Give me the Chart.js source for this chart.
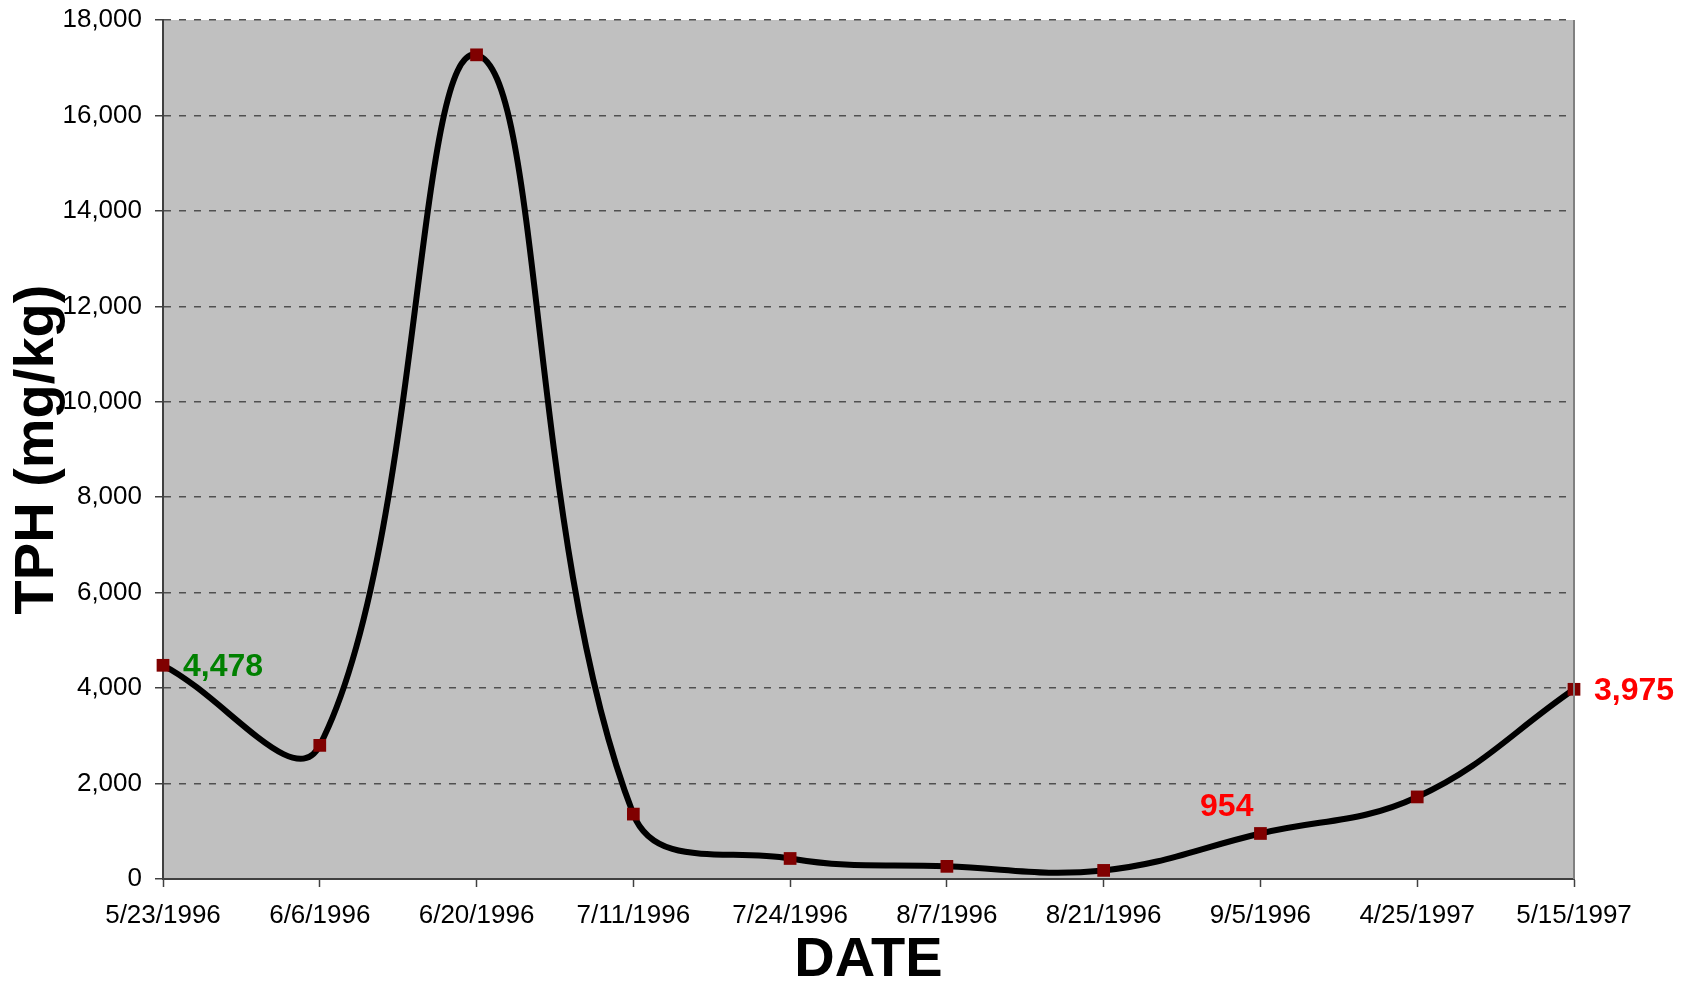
<!DOCTYPE html>
<html>
<head>
<meta charset="utf-8">
<title>TPH (mg/kg)</title>
<script src="https://cdn.jsdelivr.net/npm/chart.js@4/dist/chart.umd.min.js"></script>
<style>
    html, body { margin: 0; padding: 0; background: #ffffff; }
    #wrap { width: 1683px; height: 983px; position: relative; }
</style>
</head>
<body>
<div id="wrap"><canvas id="tphChart"></canvas></div>
<script>
// --- data ---
const dates = ['5/23/1996', '6/6/1996', '6/20/1996', '7/11/1996', '7/24/1996',
               '8/7/1996', '8/21/1996', '9/5/1996', '4/25/1997', '5/15/1997'];
const tphValues = [4478, 2800, 17270, 1360, 430, 265, 180, 954, 1720, 3975];
const yTicks = [0, 2000, 4000, 6000, 8000, 10000, 12000, 14000, 16000, 18000];

// which points carry a value label, and its colour
const labelledPoints = [0, 7, 9];
const labelColors = ['#008000', '#ff0000', '#ff0000'];

const FONT = "'Liberation Sans', Arial, sans-serif";
const fmt = v => v.toLocaleString('en-US');

// grey plot area + right border line
const plotBackground = {
    id: 'plotBackground',
    beforeDraw(chart) {
        const {ctx, chartArea: a} = chart;
        ctx.save();
        ctx.fillStyle = '#c0c0c0';
        ctx.fillRect(a.left, a.top, a.right - a.left, a.bottom - a.top);
        ctx.restore();
    },
    afterDraw(chart) {
        const {ctx, chartArea: a} = chart;
        ctx.save();
        ctx.strokeStyle = '#808080';
        ctx.lineWidth = 2;
        ctx.beginPath();
        ctx.moveTo(a.right, a.top);
        ctx.lineTo(a.right, a.bottom);
        ctx.stroke();
        ctx.restore();
    }
};

// value labels next to a few points
const valueLabels = {
    id: 'valueLabels',
    afterDatasetsDraw(chart) {
        const {ctx} = chart;
        const pts = chart.getDatasetMeta(0).data;
        ctx.save();
        ctx.font = 'bold 32px ' + FONT;
        ctx.textBaseline = 'middle';
        labelledPoints.forEach((idx, i) => {
            const p = pts[idx];
            const text = fmt(tphValues[idx]);
            ctx.fillStyle = labelColors[i];
            if (idx === 7) {
                // this one sits above-left of its point
                ctx.textAlign = 'right';
                ctx.fillText(text, p.x - 7, p.y - 26);
            } else {
                ctx.textAlign = 'left';
                ctx.fillText(text, p.x + 20, p.y + 2);
            }
        });
        ctx.restore();
    }
};

const ctx = document.getElementById('tphChart').getContext('2d');

new Chart(ctx, {
    type: 'line',
    data: {
        labels: dates,
        datasets: [{
            label: 'TPH',
            data: tphValues,
            borderColor: '#000000',
            borderWidth: 6,
            tension: 0.4,
            fill: false,
            pointStyle: 'rect',
            pointRadius: 9,
            pointBorderWidth: 0,
            pointBackgroundColor: '#800000',
            pointBorderColor: '#800000'
        }]
    },
    options: {
        responsive: true,
        maintainAspectRatio: false,
        animation: false,
        layout: {
            padding: { left: 0, top: 20, right: 109, bottom: 0 }
        },
        plugins: {
            legend: { display: false },
            tooltip: { enabled: false }
        },
        scales: {
            x: {
                offset: false,
                afterFit: s => { s.height = 104; },
                border: { display: true, color: '#404040', width: 2 },
                grid: {
                    drawOnChartArea: false,
                    drawTicks: true,
                    tickLength: 8,
                    tickColor: '#404040',
                    tickWidth: 1.5
                },
                ticks: {
                    color: '#000000',
                    font: { family: FONT, size: 26 },
                    padding: 13,
                    maxRotation: 0,
                    autoSkip: false
                },
                title: {
                    display: true,
                    text: 'DATE',
                    color: '#000000',
                    font: { family: FONT, size: 56, weight: 'bold', lineHeight: 0.8 },
                    padding: { top: 0, bottom: 0 }
                }
            },
            y: {
                min: 0,
                max: 18000,
                afterFit: s => { s.width = 163; s.paddingTop = 0; s.paddingBottom = 0; },
                afterBuildTicks: s => { s.ticks = yTicks.map(v => ({ value: v })); },
                border: { display: true, color: '#404040', width: 2, dash: [7, 8] },
                grid: {
                    color: '#505050',
                    lineWidth: 1.5,
                    drawTicks: true,
                    tickLength: 8,
                    tickColor: '#404040',
                    tickWidth: 1.5,
                    tickBorderDash: []
                },
                ticks: {
                    color: '#000000',
                    font: { family: FONT, size: 26 },
                    padding: 13,
                    callback: v => fmt(v)
                },
                title: {
                    display: true,
                    text: 'TPH (mg/kg)',
                    color: '#000000',
                    font: { family: FONT, size: 56, weight: 'bold' },
                    padding: { top: 4, bottom: 0 }
                }
            }
        }
    },
    plugins: [plotBackground, valueLabels]
});
</script>
</body>
</html>
